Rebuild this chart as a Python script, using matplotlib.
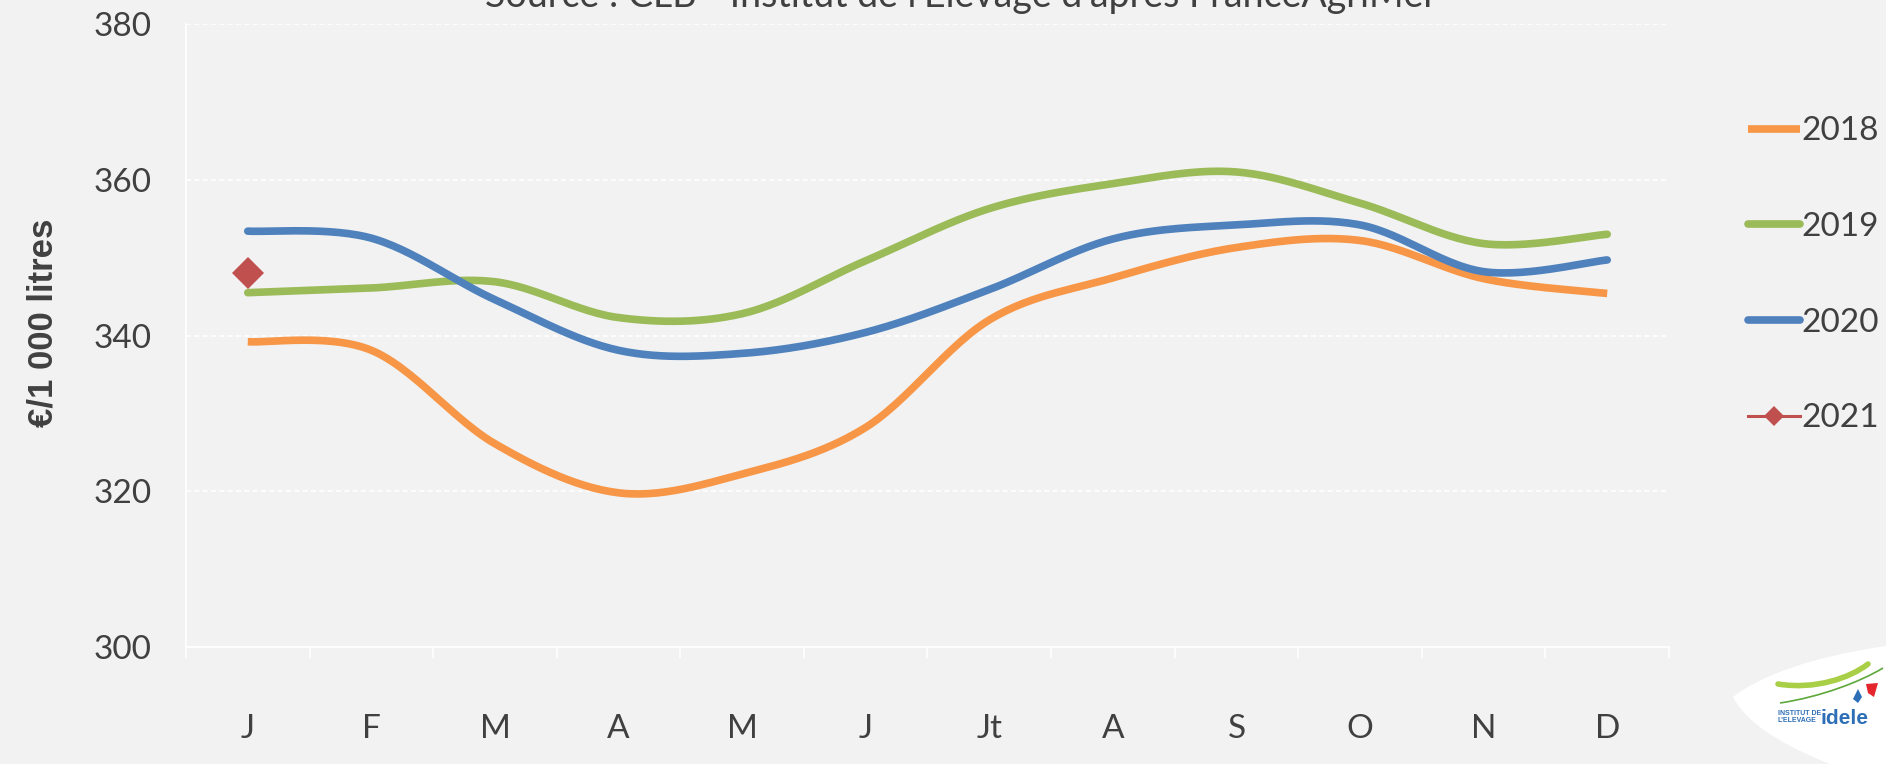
import numpy as np
import matplotlib
matplotlib.use("Agg")
import matplotlib.pyplot as plt
from matplotlib.patches import PathPatch, Polygon
from matplotlib.path import Path
from matplotlib.lines import Line2D

months = ["J", "F", "M", "A", "M", "J", "Jt", "A", "S", "O", "N", "D"]
v2018 = [339.2, 338.1, 326.1, 319.8, 322.2, 328.2, 342.0, 347.4, 351.3, 352.2, 347.3, 345.4]
v2019 = [345.5, 346.1, 346.9, 342.3, 342.8, 349.6, 356.3, 359.5, 361.0, 357.0, 351.8, 353.0]
v2020 = [353.4, 352.5, 344.6, 338.1, 337.7, 340.4, 345.9, 352.4, 354.2, 354.2, 348.2, 349.7]
v2021 = [348.0]
yticks = [300, 320, 340, 360, 380]

BG = "#f2f2f2"
TXT = "#404040"
FONT = ["Lato", "DejaVu Sans"]
W, H = 1886, 764


def smooth(y, n=30):
    y = np.asarray(y, float)
    x = np.arange(len(y), dtype=float)
    px = np.concatenate([[x[0]], x, [x[-1]]])
    py = np.concatenate([[y[0]], y, [y[-1]]])
    xs, ys = [], []
    for i in range(1, len(px) - 2):
        p0, p1, p2, p3 = (np.array([px[j], py[j]]) for j in (i - 1, i, i + 1, i + 2))
        c1 = p1 + (p2 - p0) / 6.0
        c2 = p2 - (p3 - p1) / 6.0
        t = np.linspace(0, 1, n)[:, None]
        b = (1 - t) ** 3 * p1 + 3 * (1 - t) ** 2 * t * c1 + 3 * (1 - t) * t ** 2 * c2 + t ** 3 * p2
        xs.append(b[:, 0]); ys.append(b[:, 1])
    return np.concatenate(xs), np.concatenate(ys)


def fp(x, y):
    return (x / W, 1 - y / H)


fig = plt.figure(figsize=(W / 100, H / 100), dpi=100, facecolor=BG)
ax = fig.add_axes([186 / W, 1 - 647 / H, (1669 - 186) / W, (647 - 24) / H])
ax.set_facecolor(BG)

series = [("2018", v2018, "#F79646", "butt"),
          ("2019", v2019, "#9BBB59", "round"),
          ("2020", v2020, "#4F81BD", "round")]
handles = []
for name, vals, col, cap in series:
    sx, sy = smooth(vals)
    ax.plot(sx, sy, color=col, lw=5.5, solid_capstyle=cap, solid_joinstyle="round", zorder=3)
    handles.append(Line2D([], [], color=col, lw=5.5, solid_capstyle=cap))
ax.plot(np.arange(len(v2021)), v2021, color="#C0504D", lw=2.5, marker="D", ms=16,
        markeredgewidth=0, zorder=4)
handles.append(Line2D([], [], color="#C0504D", lw=2.2, marker="D", ms=10, markeredgewidth=0))

ax.set_xlim(-0.5, 11.5)
ax.set_ylim(300, 380)
ax.set_yticks(yticks)
ax.set_yticklabels([str(v) for v in yticks], fontsize=24, color=TXT, family=FONT)
ax.tick_params(axis="y", length=0, pad=25)
ax.set_xticks(np.arange(-0.5, 12, 1))
ax.set_xticklabels([])
ax.set_xticks(np.arange(12), minor=True)
ax.set_xticklabels(months, minor=True, fontsize=24, color=TXT, family=FONT)
ax.tick_params(axis="x", which="major", length=8, width=1.2, color="white", direction="out")
ax.tick_params(axis="x", which="minor", length=0, pad=48)
ax.grid(axis="y", color="white", lw=1.2, ls=(0, (3, 2)))
for s in ["top", "right"]:
    ax.spines[s].set_visible(False)
for s in ["left", "bottom"]:
    ax.spines[s].set_color("white")
    ax.spines[s].set_linewidth(1.3)

ax.set_ylabel("€/1 000 litres", fontsize=25, fontweight="bold", color=TXT,
              family=["Liberation Sans", "DejaVu Sans"])
ax.yaxis.set_label_coords(-0.085, 0.52)

leg = fig.legend(handles, ["2018", "2019", "2020", "2021"], loc="upper left",
                 bbox_to_anchor=fp(1735, 103), frameon=False,
                 prop={"family": FONT, "size": 24}, labelspacing=1.97,
                 handlelength=1.55, handletextpad=0.05, borderaxespad=0)
for t in leg.get_texts():
    t.set_color(TXT)

fig.text(961 / W, 1 - 7 / H, "Source : CLB - Institut de l'Elevage d'après FranceAgriMer",
         ha="center", va="baseline", fontsize=27, color=TXT, family=FONT)

# logo (white leaf)
verts = [fp(1733, 697),
         fp(1760, 676), fp(1810, 657), fp(1886, 646),
         fp(1886, 764),
         fp(1830, 764),
         fp(1800, 752), fp(1750, 730), fp(1733, 697)]
codes = [Path.MOVETO, Path.CURVE4, Path.CURVE4, Path.CURVE4, Path.LINETO, Path.LINETO,
         Path.CURVE4, Path.CURVE4, Path.CURVE4]
fig.patches.append(PathPatch(Path(verts, codes), transform=fig.transFigure,
                             facecolor="white", edgecolor="none", zorder=5))
sw = [fp(1778, 684), fp(1815, 690), fp(1850, 678), fp(1868, 664)]
sw2 = [fp(1780, 703), fp(1820, 697), fp(1860, 682), fp(1883, 668)]
fig.patches.append(PathPatch(Path(sw, [Path.MOVETO, Path.CURVE4, Path.CURVE4, Path.CURVE4]),
                             transform=fig.transFigure, facecolor="none", edgecolor="#A8CF45",
                             lw=4, capstyle="round", zorder=6))
fig.patches.append(PathPatch(Path(sw2, [Path.MOVETO, Path.CURVE4, Path.CURVE4, Path.CURVE4]),
                             transform=fig.transFigure, facecolor="none", edgecolor="#5EA83A",
                             lw=1.2, zorder=6))
fig.patches.append(Polygon([fp(1866, 684), fp(1878, 683), fp(1874, 697), fp(1868, 693)],
                           closed=True, transform=fig.transFigure, facecolor="#E4262C",
                           edgecolor="none", zorder=6))
fig.patches.append(Polygon([fp(1858, 689), fp(1862, 697), fp(1858, 703), fp(1853, 699)],
                           closed=True, transform=fig.transFigure, facecolor="#2D6FB7",
                           edgecolor="none", zorder=6))
fig.text(1778 / W, 1 - 717 / H, "INSTITUT DE\nL'ELEVAGE", fontsize=5.0, fontweight="bold",
         color="#2D6FB7", family=["Liberation Sans"], ha="left", va="center", linespacing=1.15, zorder=7)
fig.text(1821 / W, 1 - 718 / H, "idele", fontsize=15, fontweight="bold", color="#2D6FB7",
         family=["Liberation Sans"], ha="left", va="center", zorder=7)

fig.savefig("out.png", dpi=100, facecolor=BG)
